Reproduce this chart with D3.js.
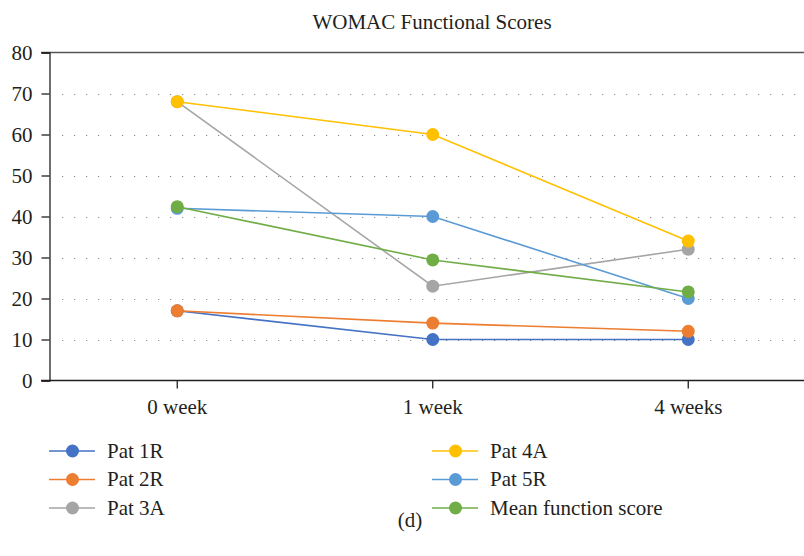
<!DOCTYPE html>
<html>
<head>
<meta charset="utf-8">
<script src="https://cdn.jsdelivr.net/npm/d3@7"></script>
<style>
  body { margin: 0; background: #fff; }
  text { font-family: "Liberation Serif", "Times New Roman", serif; fill: #231f20; }
</style>
</head>
<body>
<div id="chart"></div>
<script>
// data
const weeks = ["0 week", "1 week", "4 weeks"];
const seriesNames = ["Pat 1R", "Pat 2R", "Pat 3A", "Pat 4A", "Pat 5R", "Mean function score"];
const pat1R = [17, 10, 10];
const pat2R = [17, 14, 12];
const pat3A = [68, 23, 32];
const pat4A = [68, 60, 34];
const pat5R = [42, 40, 20];
const meanScore = [42.4, 29.4, 21.6];
const yTicks = [0, 10, 20, 30, 40, 50, 60, 70, 80];
const colors = ["#4472C4", "#ED7D31", "#A5A5A5", "#FFC000", "#5B9BD5", "#70AD47"];

const allValues = [pat1R, pat2R, pat3A, pat4A, pat5R, meanScore];
const series = seriesNames.map((name, i) => ({
    name,
    color: colors[i],
    values: allValues[i].map((v, j) => ({ week: weeks[j], value: v }))
}));

const width = 804;
const height = 556;
const plot = { left: 49.5, right: 816, top: 52.5, bottom: 380.5 };
const fontSize = "21px";

const svg = d3.select("#chart").append("svg")
    .attr("width", width)
    .attr("height", height);

// scales
const x = d3.scaleBand()
    .domain(weeks)
    .range([plot.left, plot.right]);
const xc = d => x(d) + x.bandwidth() / 2;

const y = d3.scaleLinear()
    .domain([0, 80])
    .range([plot.bottom, plot.top]);

// title
svg.append("text")
    .attr("x", 432)
    .attr("y", 29)
    .attr("text-anchor", "middle")
    .attr("font-size", fontSize)
    .text("WOMAC Functional Scores");

// dotted gridlines
svg.append("g")
    .selectAll("line")
    .data(yTicks.filter(t => t > 0 && t < 80))
    .join("line")
    .attr("x1", 62)
    .attr("x2", 804)
    .attr("y1", d => Math.round(y(d)) + 0.5)
    .attr("y2", d => Math.round(y(d)) + 0.5)
    .attr("stroke", "#888")
    .attr("stroke-width", 1.2)
    .attr("stroke-dasharray", "1.2 10.8");

// top border
svg.append("line")
    .attr("x1", 41).attr("x2", 804)
    .attr("y1", y(80)).attr("y2", y(80))
    .attr("stroke", "#555")
    .attr("stroke-width", 1.3);

// y axis
const yAxis = d3.axisLeft(y)
    .tickValues(yTicks)
    .tickSize(8)
    .tickPadding(9);
const gy = svg.append("g")
    .attr("transform", `translate(${plot.left},0)`)
    .call(yAxis)
    .attr("font-family", null);
gy.select(".domain").attr("stroke", "#231f20").attr("stroke-width", 1.3);
gy.selectAll(".tick line").attr("stroke", "#231f20").attr("stroke-width", 1.3);
gy.selectAll(".tick text")
    .attr("font-size", fontSize)
    .attr("dy", "0.34em")
    .attr("fill", "#231f20");

// x axis
const gx = svg.append("g")
    .attr("transform", `translate(0,${plot.bottom})`);
gx.append("line")
    .attr("x1", 41).attr("x2", 804)
    .attr("stroke", "#231f20")
    .attr("stroke-width", 1.3);
gx.selectAll(".wk")
    .data(weeks)
    .join("g")
    .attr("class", "wk")
    .each(function(d) {
        const g = d3.select(this);
        g.append("line")
            .attr("x1", xc(d)).attr("x2", xc(d))
            .attr("y1", 0).attr("y2", 8)
            .attr("stroke", "#231f20")
            .attr("stroke-width", 1.3);
        g.append("text")
            .attr("x", xc(d))
            .attr("y", 33.5)
            .attr("text-anchor", "middle")
            .attr("font-size", fontSize)
            .text(d);
    });

// lines and markers
const line = d3.line()
    .x(d => xc(d.week))
    .y(d => y(d.value));

series.forEach(s => {
    const g = svg.append("g");
    g.append("path")
        .datum(s.values)
        .attr("fill", "none")
        .attr("stroke", s.color)
        .attr("stroke-width", 1.6)
        .attr("d", line);
    g.selectAll("circle")
        .data(s.values)
        .join("circle")
        .attr("cx", d => xc(d.week))
        .attr("cy", d => y(d.value))
        .attr("r", 6.5)
        .attr("fill", s.color);
});

// legend
const legend = svg.append("g");
series.forEach((s, i) => {
    const col = Math.floor(i / 3);
    const row = i % 3;
    const lx = col === 0 ? 49 : 432;
    const ly = 451 + row * 28.5;
    const item = legend.append("g").attr("transform", `translate(${lx},${ly})`);
    item.append("line")
        .attr("x1", 0).attr("x2", 46)
        .attr("stroke", s.color)
        .attr("stroke-width", 1.6);
    item.append("circle")
        .attr("cx", 23.5)
        .attr("r", 6.5)
        .attr("fill", s.color);
    item.append("text")
        .attr("x", 58)
        .attr("y", 6.5)
        .attr("font-size", fontSize)
        .text(s.name);
});

// panel label
svg.append("text")
    .attr("x", 410)
    .attr("y", 527)
    .attr("text-anchor", "middle")
    .attr("font-size", fontSize)
    .text("(d)");
</script>
</body>
</html>
